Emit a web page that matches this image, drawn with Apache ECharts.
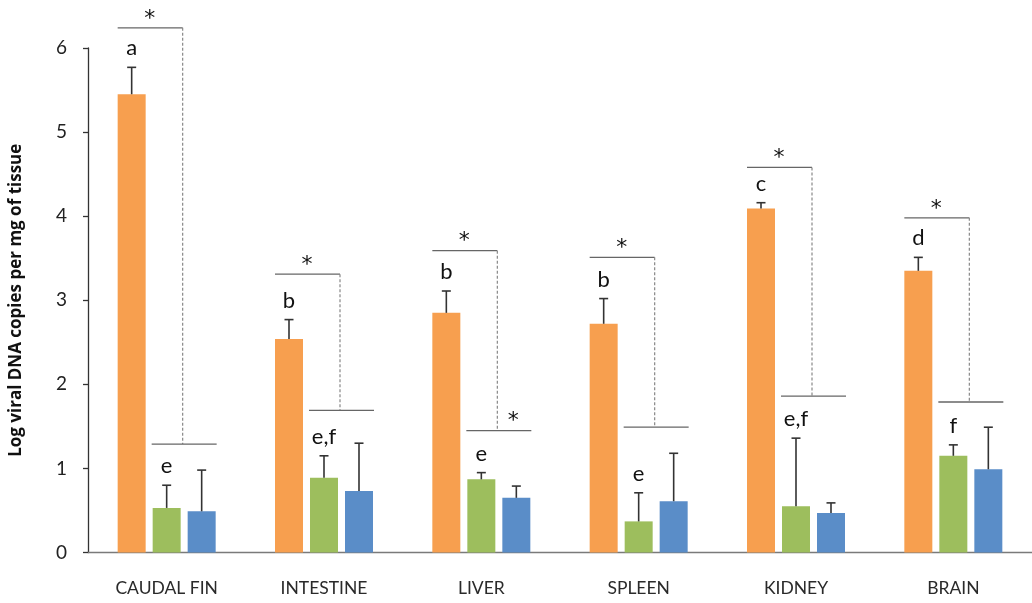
<!DOCTYPE html>
<html>
<head>
<meta charset="utf-8">
<script src="https://cdn.jsdelivr.net/npm/echarts@6/dist/echarts.min.js"></script>
<style>
  html, body { margin: 0; padding: 0; background: #fff; }
  #chart { width: 1032px; height: 603px; }
</style>
</head>
<body>
<div id="chart"></div>
<script>
const categories = ['CAUDAL FIN', 'INTESTINE', 'LIVER', 'SPLEEN', 'KIDNEY', 'BRAIN']

// bar heights (log copies / mg)
const orangeVals = [5.45, 2.54, 2.85, 2.72, 4.09, 3.35]
const greenVals = [0.53, 0.89, 0.87, 0.37, 0.55, 1.15]
const blueVals = [0.49, 0.73, 0.65, 0.61, 0.47, 0.99]

// top of the error bars
const orangeErr = [5.77, 2.77, 3.11, 3.02, 4.16, 3.51]
const greenErr = [0.80, 1.15, 0.95, 0.71, 1.36, 1.28]
const blueErr = [0.98, 1.30, 0.79, 1.18, 0.59, 1.49]

// letters over the bars
const orangeLetters = ['a', 'b', 'b', 'b', 'c', 'd']
const greenLetters = ['e', 'e,f', 'e', 'e', 'e,f', 'f']

// significance brackets: upper line over orange, lower line over green+blue
const bracketTop = [6.24, 3.31, 3.59, 3.51, 4.58, 3.98]
const bracketLow = [1.29, 1.69, 1.45, 1.49, 1.86, 1.79]
const lowStar = [false, false, true, false, false, false]

const colors = ['#F79F4F', '#9DBE5D', '#5A8DC8']
const barW = 28
const step = 35 // bar width + gap between bars
const font = 'Lato, "Open Sans", sans-serif'

const errData = []
const letterData = []
;[orangeVals, greenVals, blueVals].forEach((vals, k) => {
  const errs = [orangeErr, greenErr, blueErr][k]
  vals.forEach((v, i) => {
    errData.push([i, k, v, errs[i]])
  })
})
orangeLetters.forEach((t, i) => letterData.push([i, 0, orangeErr[i], t]))
greenLetters.forEach((t, i) => letterData.push([i, 1, greenErr[i], t]))
const bracketData = categories.map((c, i) => [i, bracketTop[i], bracketLow[i], lowStar[i] ? 1 : 0])

const chart = echarts.init(document.getElementById('chart'))

const option = {
  animation: false,
  grid: { left: 82, top: 48, width: 960, bottom: 50.5 },
  xAxis: {
    type: 'category',
    data: categories,
    axisLine: { lineStyle: { color: '#7a7a7a', width: 1.3 } },
    axisTick: { show: false },
    axisLabel: { fontSize: 17.5, margin: 27, color: '#2a2a2a', fontFamily: font }
  },
  yAxis: {
    type: 'value',
    min: 0,
    max: 6,
    interval: 1,
    name: 'Log viral DNA copies per mg of tissue',
    nameLocation: 'middle',
    nameGap: 63,
    nameTextStyle: { fontSize: 17, fontWeight: 'bold', color: '#111', fontFamily: '"Open Sans", sans-serif' },
    axisLine: { show: true, lineStyle: { color: '#333', width: 1.3 } },
    axisTick: { show: true, length: 5, lineStyle: { color: '#333', width: 1.3 } },
    axisLabel: { fontSize: 19, margin: 21, color: '#222', fontFamily: font },
    splitLine: { show: false }
  },
  series: [
    { name: 'orange', type: 'bar', data: orangeVals, barWidth: barW, barGap: '25%', itemStyle: { color: colors[0] } },
    { name: 'green', type: 'bar', data: greenVals, barWidth: barW, barGap: '25%', itemStyle: { color: colors[1] } },
    { name: 'blue', type: 'bar', data: blueVals, barWidth: barW, barGap: '25%', itemStyle: { color: colors[2] } },
    {
      // error bars (upper only)
      type: 'custom',
      data: errData,
      z: 5,
      renderItem(params, api) {
        const i = api.value(0)
        const k = api.value(1)
        const base = api.coord([i, api.value(2)])
        const top = api.coord([i, api.value(3)])
        const x = base[0] + (k - 1) * step
        const st = { stroke: '#333', lineWidth: 1.6 }
        return {
          type: 'group',
          children: [
            { type: 'line', shape: { x1: x, y1: base[1], x2: x, y2: top[1] }, style: st },
            { type: 'line', shape: { x1: x - 4.5, y1: top[1], x2: x + 4.5, y2: top[1] }, style: st }
          ]
        }
      }
    },
    {
      // letters
      type: 'custom',
      data: letterData,
      z: 6,
      renderItem(params, api) {
        const i = api.value(0)
        const k = api.value(1)
        const p = api.coord([i, api.value(2)])
        return {
          type: 'text',
          x: p[0] + (k - 1) * step,
          y: p[1] - 19,
          style: {
            text: letterData[params.dataIndex][3],
            fontSize: 22,
            fontFamily: font,
            fill: '#111',
            align: 'center',
            verticalAlign: 'middle'
          }
        }
      }
    },
    {
      // significance brackets
      type: 'custom',
      data: bracketData,
      z: 4,
      clip: false,
      renderItem(params, api) {
        const i = api.value(0)
        const t = api.coord([i, api.value(1)])
        const l = api.coord([i, api.value(2)])
        const c = t[0]
        const solid = { stroke: '#666', lineWidth: 1.3 }
        const starStyle = { fontSize: 22, fontFamily: '"DejaVu Sans", sans-serif', fill: '#111', align: 'center', verticalAlign: 'middle' }
        const kids = [
          { type: 'line', shape: { x1: c - 49, y1: t[1], x2: c + 16, y2: t[1] }, style: solid },
          { type: 'line', shape: { x1: c + 16, y1: t[1], x2: c + 16, y2: l[1] }, style: { stroke: '#888', lineWidth: 1.2, lineDash: [3, 2] } },
          { type: 'line', shape: { x1: c - 15, y1: l[1], x2: c + 50, y2: l[1] }, style: solid },
          { type: 'text', x: c - 17, y: t[1] - 9, style: Object.assign({ text: '*' }, starStyle) }
        ]
        if (api.value(3)) {
          kids.push({ type: 'text', x: c + 32, y: l[1] - 9, style: Object.assign({ text: '*' }, starStyle) })
        }
        return { type: 'group', children: kids }
      }
    }
  ]
}

chart.setOption(option)
</script>
</body>
</html>
